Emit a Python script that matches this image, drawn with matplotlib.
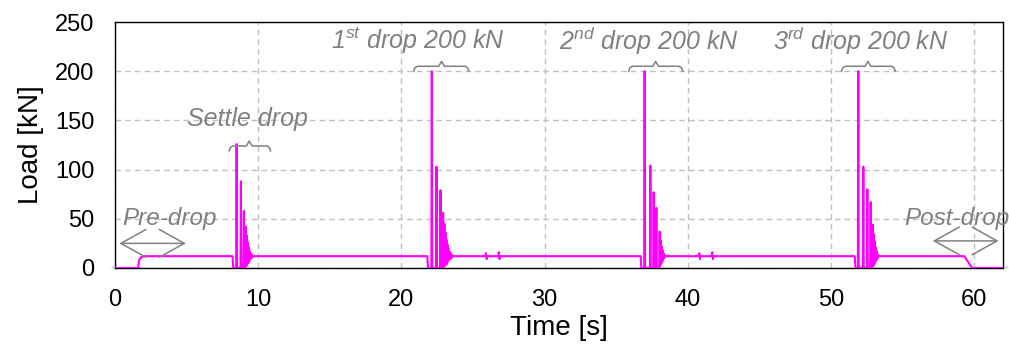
import numpy as np
import matplotlib.pyplot as plt

plt.rcParams['font.family'] = ['Liberation Sans', 'DejaVu Sans']
plt.rcParams['mathtext.fontset'] = 'custom'
plt.rcParams['mathtext.rm'] = 'Liberation Sans:italic'
plt.rcParams['mathtext.it'] = 'Liberation Sans:italic'

# load trace (time [s], load [kN])
start_t = [0.0, 1.63, 1.66, 1.72, 1.85, 2.10]
start_load = [0, 0, 7, 9, 11, 12]

settle_t = [8.20, 8.26, 8.46, 8.49, 8.52, 8.76, 8.79, 8.82, 8.97, 9.00, 9.03, 9.12, 9.14,
            9.17, 9.21, 9.24, 9.28, 9.31, 9.35, 9.38, 9.42, 9.45, 9.49, 9.52, 9.56, 9.60, 9.65]
settle_load = [12, 0, 0, 126, 0, 0, 88, 0, 0, 58, 0, 0, 42,
               2, 33, 4, 26, 5, 21, 7, 17, 9, 15, 10, 13.5, 11, 12]

drop1_t = [21.80, 21.86, 22.09, 22.12, 22.15, 22.42, 22.45, 22.48, 22.70, 22.73, 22.76,
           22.88, 22.91, 22.94, 23.00, 23.03, 23.07, 23.10, 23.14, 23.17, 23.21, 23.24,
           23.28, 23.31, 23.35, 23.39, 23.44, 23.50, 23.56, 23.62]
drop1_load = [12, 0, 0, 200, 0, 0, 103, 0, 0, 79, 0,
              0, 56, 1, 45, 2, 36, 3, 29, 4, 24, 6,
              20, 8, 17, 9, 15, 10, 13, 12]

blips1_t = [25.85, 25.90, 25.95, 26.00, 26.75, 26.80, 26.85, 26.90]
blips1_load = [12, 15, 9, 12, 12, 16, 9, 12]

drop2_t = [36.70, 36.75, 36.95, 36.98, 37.01, 37.35, 37.38, 37.41, 37.58, 37.61, 37.64,
           37.77, 37.80, 37.83, 38.00, 38.03, 38.06, 38.10, 38.13, 38.17, 38.20, 38.24,
           38.27, 38.31, 38.35, 38.40, 38.45]
drop2_load = [12, 0, 0, 200, 0, 0, 104, 0, 0, 77, 0,
              0, 61, 0, 0, 37, 2, 28, 4, 22, 6, 18,
              8, 15, 10, 13, 12]

blips2_t = [40.75, 40.80, 40.85, 40.90, 41.65, 41.70, 41.75, 41.80]
blips2_load = [12, 15, 9, 12, 12, 16, 9, 12]

drop3_t = [51.65, 51.70, 51.87, 51.90, 51.93, 52.22, 52.25, 52.28, 52.50, 52.53, 52.56,
           52.73, 52.76, 52.79, 52.89, 52.92, 52.95, 52.99, 53.02, 53.06, 53.09, 53.13,
           53.16, 53.20, 53.25, 53.32, 53.40]
drop3_load = [12, 0, 0, 200, 0, 0, 103, 0, 0, 80, 0,
              0, 67, 0, 0, 44, 2, 34, 4, 27, 6, 21,
              8, 17, 10, 13, 12]

end_t = [59.30, 59.85, 62.0]
end_load = [12, 0, 0]

time = np.concatenate([start_t, settle_t, drop1_t, blips1_t, drop2_t, blips2_t, drop3_t, end_t])
load = np.concatenate([start_load, settle_load, drop1_load, blips1_load, drop2_load,
                       blips2_load, drop3_load, end_load])

# labels
labels = ['Settle drop', '1$^{st}$ drop 200 kN', '2$^{nd}$ drop 200 kN', '3$^{rd}$ drop 200 kN']
label_x = [9.25, 21.15, 37.3, 52.1]
label_y = [151, 231, 231, 231]
brace_x0 = [7.98, 20.86, 35.87, 50.73]
brace_x1 = [10.86, 24.70, 39.64, 54.48]
brace_mid = [9.37, 22.80, 37.75, 52.57]
brace_y = [124, 205, 205, 205]

gray = '#808080'

fig = plt.figure(figsize=(10.09, 3.44), dpi=100)
ax = fig.add_axes([0.114, 0.221, 0.880, 0.715])

ax.plot(time, load, color='#FF00FF', lw=1.5, zorder=3)

ax.set_xlim(0, 62)
ax.set_ylim(0, 250)
ax.set_xticks(np.arange(0, 61, 10))
ax.set_yticks(np.arange(0, 251, 50))
ax.tick_params(length=0, labelsize=17, pad=15)
ax.grid(True, color='#BFBFBF', ls=(0, (4, 3)), lw=1)
for s in ax.spines.values():
    s.set_color('black')
    s.set_linewidth(1)
ax.set_xlabel('Time [s]', fontsize=20, labelpad=3)
ax.set_ylabel('Load [kN]', fontsize=20, labelpad=8)

for lab, x, y in zip(labels, label_x, label_y):
    ax.text(x, y, lab, ha='center', va='center', fontsize=18, style='italic', color=gray)

for x0, x1, xm, y in zip(brace_x0, brace_x1, brace_mid, brace_y):
    bx = [x0, x0 + 0.08, x0 + 0.25, xm - 0.2, xm, xm + 0.2, x1 - 0.25, x1 - 0.08, x1]
    by = [y - 5, y - 1.5, y, y, y + 5, y, y, y - 1.5, y - 5]
    ax.plot(bx, by, color=gray, lw=1.1, zorder=4)

ax.text(3.77, 50, 'Pre-drop', ha='center', va='center', fontsize=17.5, style='italic', color=gray)
ax.text(58.8, 50, 'Post-drop', ha='center', va='center', fontsize=17.5, style='italic',
        color=gray, clip_on=False)
arrow = dict(arrowstyle='<->,head_length=0.9,head_width=0.5', color=gray, lw=1.1,
             shrinkA=0, shrinkB=0, mutation_scale=20)
ax.annotate('', xy=(0.3, 25), xytext=(4.95, 25), arrowprops=arrow)
ax.annotate('', xy=(57.1, 27.5), xytext=(61.7, 27.5), arrowprops=arrow)

fig.savefig('out.png', dpi=100)
